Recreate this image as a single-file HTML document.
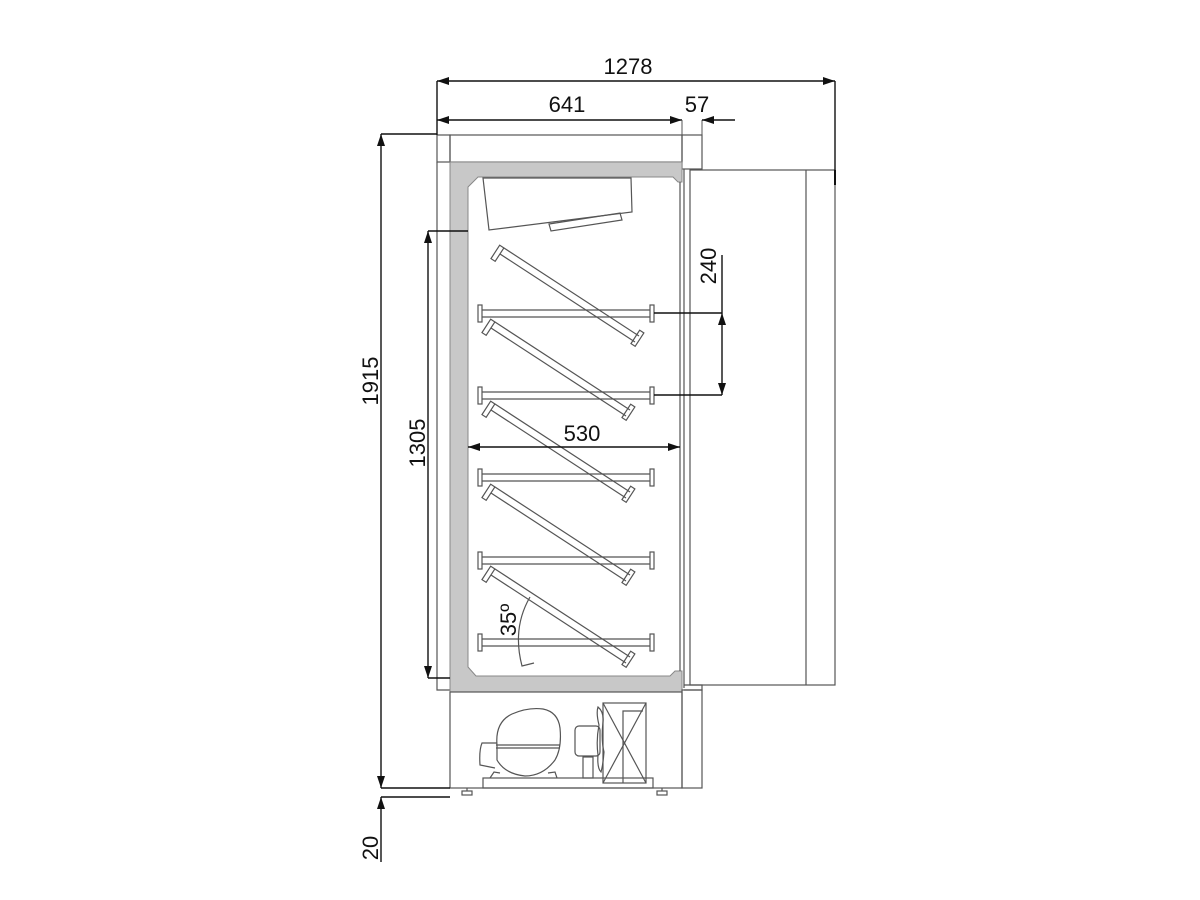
<!DOCTYPE html>
<html><head><meta charset="utf-8"><style>
html,body{margin:0;padding:0;background:#fff;}
svg{display:block;}
text{font-family:"Liberation Sans","DejaVu Sans",sans-serif;font-size:22px;fill:#111;}
</style></head><body>
<svg width="1200" height="900" viewBox="0 0 1200 900" xmlns="http://www.w3.org/2000/svg">
<defs>
<marker id="a" viewBox="0 0 12 8" refX="12" refY="4" markerWidth="12" markerHeight="8" orient="auto-start-reverse" markerUnits="userSpaceOnUse"><path d="M0,0 L12,4 L0,8 z" fill="#111"/></marker>
</defs>
<g fill="none" stroke="#555" stroke-width="1.2">
<!-- top boxes -->
<rect x="437" y="135" width="13" height="27"/>
<rect x="450" y="135" width="232" height="27"/>
<rect x="682" y="135" width="20" height="34"/>
<!-- left outer panel -->
<path d="M437 162 V690 H450"/>
</g>
<!-- gray frame -->
<path d="M450 162 H682 V182 L678 182 L673 177 H478 L468 187 V667 L476 676 H670 L675 671 H682 V692 H450 Z" fill="#c8c8c8" stroke="#888" stroke-width="1"/>
<g fill="none" stroke="#555" stroke-width="1.2">
<line x1="680" y1="182" x2="680" y2="671"/>
<line x1="684" y1="169" x2="684" y2="688"/>
<!-- door -->
<rect x="690" y="170" width="145" height="515"/>
<line x1="806" y1="170" x2="806" y2="685"/>
<line x1="835" y1="170" x2="835" y2="185" stroke="#111" stroke-width="2"/>
<path d="M684 685 H702 V690 H684"/>
<!-- base -->
<rect x="450" y="692" width="232" height="96"/>
<rect x="682" y="690" width="20" height="98"/>
<rect x="483" y="778" width="170" height="10"/>
<rect x="462" y="791" width="10" height="4"/><line x1="467" y1="788" x2="467" y2="791"/>
<rect x="657" y="791" width="10" height="4"/><line x1="662" y1="788" x2="662" y2="791"/>
<!-- compressor -->
<path d="M497 745 Q495 722 512 714 Q528 707 543 709 Q558 712 560 728 Q562 748 555 760 Q543 776 525 776 Q505 774 497 760 Z"/>
<line x1="496" y1="745" x2="560" y2="745"/><line x1="496" y1="748" x2="560" y2="748"/>
<path d="M497 743 L482 743 Q479 750 480 765 L495 768"/>
<path d="M490 778 L494 772 L500 773 M548 773 L555 772 L557 778"/>
<!-- motor + fan -->
<rect x="575" y="726" width="25" height="30" rx="4"/>
<rect x="583" y="757" width="10" height="21"/>
<path d="M598 707 Q604 712 603 722 Q601 740 604 752 Q603 765 601 772 Q597 768 598 755 Q596 740 599 725 Q596 713 598 707 Z"/>
<rect x="603" y="703" width="43" height="80"/>
<line x1="603" y1="703" x2="646" y2="783"/><line x1="646" y1="703" x2="603" y2="783"/>
<path d="M623 783 V711 H643"/>
<!-- evaporator -->
<path d="M483 178 L631 178 L632 212 L489 230 Z"/>
<path d="M549 224 L620 213 L622 220 L551 231 Z"/>
<!-- shelves -->
<g id="sh">
<rect x="478" y="305" width="4" height="17"/><rect x="650" y="305" width="4" height="17"/>
<line x1="482" y1="310" x2="650" y2="310"/><line x1="482" y1="317" x2="650" y2="317"/>
</g>
<use href="#sh" y="82"/><use href="#sh" y="164"/><use href="#sh" y="247"/><use href="#sh" y="329"/>
<g id="dg">
<path d="M504 248 L639 336 M500 254 L635 342"/>
<rect x="495" y="245" width="5" height="16" transform="rotate(33 497 253)"/>
<rect x="635" y="330" width="5" height="16" transform="rotate(33 637 338)"/>
</g>
<use href="#dg" transform="translate(-9 74)"/>
<use href="#dg" transform="translate(-9 156)"/>
<use href="#dg" transform="translate(-9 239)"/>
<use href="#dg" transform="translate(-9 321)"/>
<!-- angle arc -->
<path d="M530 597 Q512 628 522 666 L534 663"/>
</g>
<!-- dimension lines -->
<g stroke="#111" stroke-width="1.4" fill="none">
<line x1="437" y1="81" x2="835" y2="81" marker-start="url(#a)" marker-end="url(#a)"/>
<line x1="437" y1="81" x2="437" y2="135"/><line x1="835" y1="81" x2="835" y2="170"/>
<line x1="437" y1="120" x2="682" y2="120" marker-start="url(#a)" marker-end="url(#a)"/>
<line x1="682" y1="120" x2="682" y2="135" stroke="#555" stroke-width="1"/>
<line x1="702" y1="120" x2="702" y2="135" stroke="#555" stroke-width="1"/>
<line x1="735" y1="120" x2="702" y2="120" marker-end="url(#a)"/>
<line x1="381" y1="134" x2="437" y2="134"/>
<line x1="381" y1="134" x2="381" y2="788" marker-start="url(#a)" marker-end="url(#a)"/>
<line x1="381" y1="788" x2="450" y2="788"/>
<line x1="381" y1="797" x2="450" y2="797"/>
<line x1="381" y1="862" x2="381" y2="797" marker-end="url(#a)"/>
<line x1="428" y1="231" x2="468" y2="231"/>
<line x1="428" y1="231" x2="428" y2="678" marker-start="url(#a)" marker-end="url(#a)"/>
<line x1="428" y1="678" x2="450" y2="678"/>
<line x1="654" y1="313" x2="722" y2="313"/>
<line x1="654" y1="395" x2="722" y2="395"/>
<line x1="722" y1="255" x2="722" y2="313"/>
<line x1="722" y1="313" x2="722" y2="395" marker-start="url(#a)" marker-end="url(#a)"/>
<line x1="468" y1="447" x2="680" y2="447" marker-start="url(#a)" marker-end="url(#a)"/>
</g>
<text x="628" y="74" text-anchor="middle">1278</text>
<text x="567" y="112" text-anchor="middle">641</text>
<text x="697" y="112" text-anchor="middle">57</text>
<text x="582" y="441" text-anchor="middle">530</text>
<text transform="translate(378 381) rotate(-90)" text-anchor="middle">1915</text>
<text transform="translate(425 443) rotate(-90)" text-anchor="middle">1305</text>
<text transform="translate(378 848) rotate(-90)" text-anchor="middle">20</text>
<text transform="translate(716 266) rotate(-90)" text-anchor="middle">240</text>
<text transform="translate(516 620) rotate(-90)" text-anchor="middle">35º</text>
</svg>
</body></html>
